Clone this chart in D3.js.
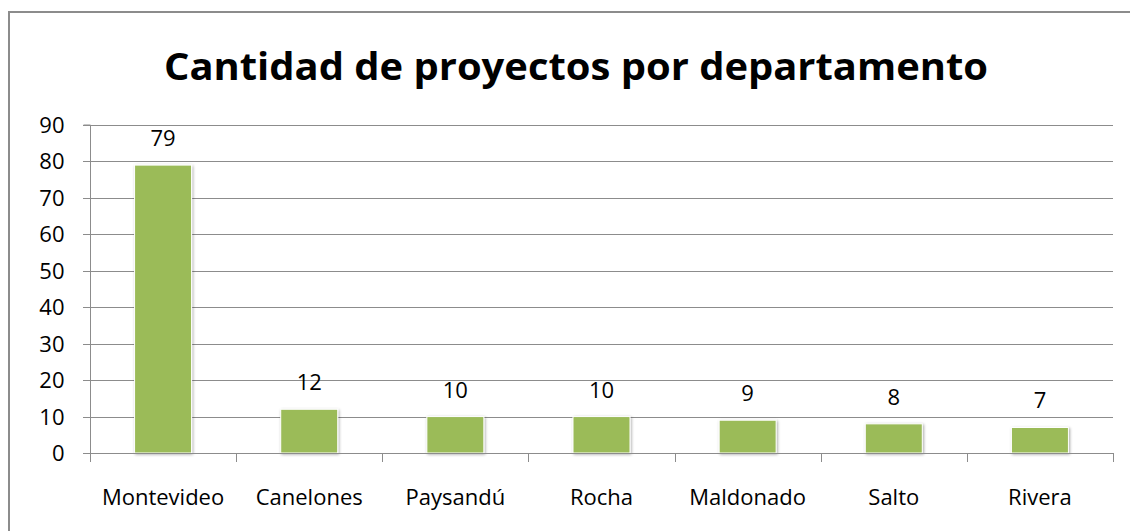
<!DOCTYPE html>
<html>
<head>
<meta charset="utf-8">
<script src="https://cdn.jsdelivr.net/npm/d3@7"></script>
<style>
  body { margin: 0; background: #fff; }
  svg { display: block; font-family: "Open Sans", "Liberation Sans", sans-serif; }
</style>
</head>
<body>
<svg></svg>
<script>
let departamentos = ["Montevideo", "Canelones", "Paysandú", "Rocha", "Maldonado", "Salto", "Rivera"]
let proyectos = [79, 12, 10, 10, 9, 8, 7]
let yTicks = [0, 10, 20, 30, 40, 50, 60, 70, 80, 90]
let titulo = "Cantidad de proyectos por departamento"

let width = 1130
let height = 531
let plot = {left: 90, right: 1113, top: 125, bottom: 453}
let fs = 22

let svg = d3.select('svg')
  .attr('width', width)
  .attr('height', height)

// shadow for the bars
let defs = svg.append('defs')
let filt = defs.append('filter').attr('id', 'sombra')
  .attr('x', '-20%').attr('y', '-20%').attr('width', '140%').attr('height', '140%')
filt.append('feGaussianBlur').attr('in', 'SourceAlpha').attr('stdDeviation', 1.5)
filt.append('feOffset').attr('dx', 1).attr('dy', 1).attr('result', 'off')
filt.append('feComponentTransfer').append('feFuncA').attr('type', 'linear').attr('slope', 0.35)
let merge = filt.append('feMerge')
merge.append('feMergeNode')
merge.append('feMergeNode').attr('in', 'SourceGraphic')

// outer frame
svg.append('rect')
  .attr('x', 9).attr('y', 12)
  .attr('width', 1140).attr('height', 540)
  .attr('fill', 'none')
  .attr('stroke', '#8c8c8c')
  .attr('stroke-width', 2)

// title
svg.append('text')
  .attr('x', 576).attr('y', 80)
  .attr('text-anchor', 'middle')
  .attr('font-size', 37)
  .attr('font-weight', 'bold')
  .attr('textLength', 824)
  .attr('lengthAdjust', 'spacingAndGlyphs')
  .attr('fill', '#000')
  .text(titulo)

let xScale = d3.scaleBand()
  .domain(departamentos)
  .range([plot.left, plot.right])
  .paddingInner(0.61)
  .paddingOuter(0.305)

let xTicks = d3.scaleBand()
  .domain(departamentos)
  .range([plot.left, plot.right])

let yScale = d3.scaleLinear()
  .domain([0, 90])
  .range([plot.bottom, plot.top])

// gridlines
svg.append('g')
  .selectAll('line')
  .data(yTicks.filter(d => d > 0))
  .enter()
  .append('line')
  .attr('x1', plot.left - 7)
  .attr('x2', plot.right)
  .attr('y1', d => Math.round(yScale(d)) + 0.5)
  .attr('y2', d => Math.round(yScale(d)) + 0.5)
  .attr('stroke', '#8c8c8c')
  .attr('stroke-width', 1)

// y axis
let yAxis = d3.axisLeft(yScale).tickValues(yTicks).tickSize(7).tickPadding(8)
let gy = svg.append('g')
  .attr('transform', 'translate(' + (plot.left + 0.5) + ',0)')
  .call(yAxis)
gy.select('.domain').attr('stroke', '#8c8c8c').attr('d', 'M-7,' + plot.top + 'H0V' + plot.bottom)
gy.selectAll('.tick line').attr('stroke', '#8c8c8c')
gy.selectAll('.tick').attr('transform', d => 'translate(0,' + (Math.round(yScale(d)) + 0.5) + ')')
gy.selectAll('.tick text')
  .attr('font-size', fs)
  .attr('font-family', '"Open Sans", sans-serif')
  .attr('fill', '#000')
  .attr('x', -26)

// bars
svg.append('g')
  .selectAll('rect')
  .data(proyectos)
  .enter()
  .append('rect')
  .attr('x', (d, i) => xScale(departamentos[i]))
  .attr('y', d => yScale(d))
  .attr('width', xScale.bandwidth())
  .attr('height', d => plot.bottom - yScale(d))
  .attr('fill', '#9bbb59')
  .attr('stroke', '#ffffff')
  .attr('stroke-width', 1)
  .attr('filter', 'url(#sombra)')

// x axis
let xAxisLine = svg.append('g')
xAxisLine.append('line')
  .attr('x1', plot.left - 7).attr('x2', plot.right)
  .attr('y1', plot.bottom + 0.5).attr('y2', plot.bottom + 0.5)
  .attr('stroke', '#8c8c8c')
let bounds = departamentos.map(d => xTicks(d)).concat([plot.right])
xAxisLine.selectAll('line.tk')
  .data(bounds)
  .enter()
  .append('line')
  .attr('class', 'tk')
  .attr('x1', d => Math.round(d) + 0.5).attr('x2', d => Math.round(d) + 0.5)
  .attr('y1', plot.bottom).attr('y2', plot.bottom + 9)
  .attr('stroke', '#8c8c8c')

svg.append('g')
  .selectAll('text')
  .data(departamentos)
  .enter()
  .append('text')
  .attr('x', d => xTicks(d) + xTicks.bandwidth() / 2)
  .attr('y', 505)
  .attr('text-anchor', 'middle')
  .attr('font-size', fs)
  .attr('fill', '#000')
  .text(d => d)

// value labels
svg.append('g')
  .selectAll('text')
  .data(proyectos)
  .enter()
  .append('text')
  .attr('x', (d, i) => xScale(departamentos[i]) + xScale.bandwidth() / 2)
  .attr('y', d => yScale(d) - 19)
  .attr('text-anchor', 'middle')
  .attr('font-size', fs)
  .attr('fill', '#000')
  .text(d => d)
</script>
</body>
</html>
